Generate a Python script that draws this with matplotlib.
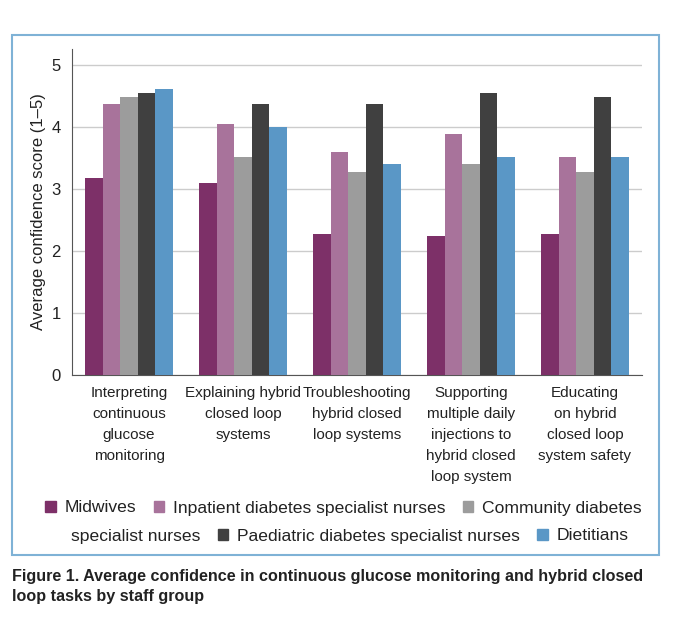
import numpy as np
import matplotlib
matplotlib.use("Agg")
from matplotlib import pyplot as plt
from matplotlib.patches import Patch, Rectangle

tasks = ["Interpreting\ncontinuous\nglucose\nmonitoring",
         "Explaining hybrid\nclosed loop\nsystems",
         "Troubleshooting\nhybrid closed\nloop systems",
         "Supporting\nmultiple daily\ninjections to\nhybrid closed\nloop system",
         "Educating\non hybrid\nclosed loop\nsystem safety"]
groups = ["Midwives", "Inpatient diabetes specialist nurses",
          "Community diabetes specialist nurses",
          "Paediatric diabetes specialist nurses", "Dietitians"]
midwives = [3.18, 3.09, 2.28, 2.24, 2.28]
inpatient = [4.37, 4.05, 3.60, 3.89, 3.51]
community = [4.48, 3.51, 3.27, 3.40, 3.27]
paediatric = [4.55, 4.37, 4.37, 4.55, 4.48]
dietitians = [4.61, 4.00, 3.40, 3.51, 3.51]
colors = ["#7d3068", "#a8739b", "#9c9c9c", "#404040", "#5a97c6"]

series = [midwives, inpatient, community, paediatric, dietitians]

plt.rcParams['font.family'] = ['Liberation Sans', 'DejaVu Sans']
fig = plt.figure(figsize=(6.8, 6.32), dpi=100)
ax = fig.add_axes([0.106, 0.4066, 0.838, 0.516])

x = np.arange(len(tasks))
w = 0.153
for i, vals in enumerate(series):
    ax.bar(x + (i - 2) * w, vals, w, color=colors[i], zorder=3)

ax.set_xlim(-0.5, 4.5)
ax.set_ylim(0, 5.26)
ax.set_yticks([0, 1, 2, 3, 4, 5])
ax.grid(axis="y", color="#cccccc", linewidth=1, zorder=0)
ax.set_xticks(x)
ax.set_xticklabels(tasks, fontsize=11, linespacing=1.64, color="#222222")
ax.tick_params(axis="y", length=0, labelsize=12, pad=8, colors="#222222")
ax.tick_params(axis="x", length=0, pad=8)
for s in ["top", "right"]:
    ax.spines[s].set_visible(False)
ax.spines["left"].set_color("#555555")
ax.spines["bottom"].set_color("#555555")
ax.set_ylabel("Average confidence score (1\u20135)", fontsize=12, color="#222222")

# legend, split over two rows like the original
row1 = [Patch(color=colors[0]), Patch(color=colors[1]), Patch(color=colors[2])]
lab1 = ["Midwives", "Inpatient diabetes specialist nurses", "Community diabetes"]
row2 = [Patch(color="none"), Patch(color=colors[3]), Patch(color=colors[4])]
lab2 = ["specialist nurses", "Paediatric diabetes specialist nurses", "Dietitians"]
kw = dict(frameon=False, ncol=3, fontsize=12.6, handlelength=0.6, handleheight=0.6,
          handletextpad=0.5, columnspacing=1.0, labelcolor="#222222")
fig.legend(row1, lab1, loc="center", bbox_to_anchor=(0.505, 1 - 508 / 632), **kw)
fig.legend(row2, lab2, loc="center", bbox_to_anchor=(0.5, 1 - 536 / 632), **kw)

# light blue frame round the chart
fig.patches.append(Rectangle((12 / 680, 1 - 555 / 632), 647 / 680, 520 / 632,
                             transform=fig.transFigure, fill=False,
                             edgecolor="#7fb2d6", linewidth=1.5))

fig.text(12 / 680, 1 - 569 / 632,
         "Figure 1. Average confidence in continuous glucose monitoring and hybrid closed\nloop tasks by staff group",
         fontweight="bold", fontsize=11.6, va="top", ha="left",
         linespacing=1.4, color="#222222")

fig.savefig("out.png", dpi=100)
